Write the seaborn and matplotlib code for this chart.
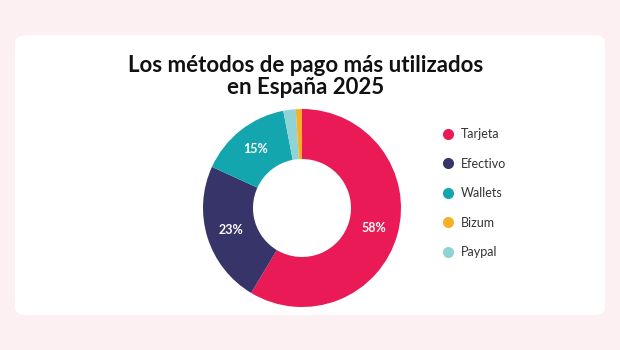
import matplotlib
matplotlib.use("Agg")
import numpy as np
import matplotlib.pyplot as plt
import seaborn as sns
from matplotlib.patches import FancyBboxPatch
from matplotlib.lines import Line2D

# Data
metodos = ["Tarjeta", "Efectivo", "Wallets", "Paypal", "Bizum"]
porcentajes = [58, 23, 15, 2, 1]
etiquetas = ["58%", "23%", "15%", "", ""]
colores = {
    "Tarjeta": "#e91a55",
    "Efectivo": "#363469",
    "Wallets": "#13a6af",
    "Bizum": "#f6b12a",
    "Paypal": "#8fd3d6",
}
orden_leyenda = ["Tarjeta", "Efectivo", "Wallets", "Bizum", "Paypal"]

sns.set_style("white")
plt.rcParams["font.family"] = ["Lato", "DejaVu Sans"]

fig = plt.figure(figsize=(6.2, 3.5), dpi=100)
fig.patch.set_facecolor("#fdf0f3")

# white card
card = FancyBboxPatch((15 / 620, 1 - 315 / 350), 590 / 620, 280 / 350,
                      boxstyle="round,pad=0,rounding_size=0.02",
                      transform=fig.transFigure, facecolor="white",
                      edgecolor="none", zorder=-5)
fig.patches.append(card)

fig.text(306 / 620, 1 - 65 / 350, "Los métodos de pago más utilizados",
         ha="center", va="center", fontsize=16, fontweight="bold", color="#111111")
fig.text(306 / 620, 1 - 88 / 350, "en España 2025",
         ha="center", va="center", fontsize=16, fontweight="bold", color="#111111")

# donut
cx, cy, r = 302, 208, 100
ax = fig.add_axes([(cx - r) / 620, (350 - cy - r) / 350, 2 * r / 620, 2 * r / 350])
ax.set_zorder(2)
wedges, textos = ax.pie(
    porcentajes,
    colors=[colores[m] for m in metodos],
    startangle=90,
    counterclock=False,
    radius=0.99,
    wedgeprops=dict(width=0.5, edgecolor="none"),
)
for w, et in zip(wedges, etiquetas):
    if not et:
        continue
    ang = np.deg2rad((w.theta1 + w.theta2) / 2)
    ax.text(0.745 * np.cos(ang), 0.745 * np.sin(ang), et, ha="center", va="center",
            color="white", fontsize=9, fontweight="bold")
ax.set_xlim(-1, 1)
ax.set_ylim(-1, 1)
ax.set_aspect("equal")
ax.axis("off")

# legend
handles = [Line2D([], [], marker="o", linestyle="none", markersize=8,
                  markerfacecolor=colores[m], markeredgecolor="none") for m in orden_leyenda]
fig.legend(handles, orden_leyenda, loc="upper left",
           bbox_to_anchor=(430 / 620, 1 - 117 / 350), frameon=False,
           fontsize=9, labelspacing=1.4, handletextpad=0.55, handlelength=1.0,
           labelcolor="#333333")

fig.savefig("out.png", dpi=100, facecolor=fig.get_facecolor())
